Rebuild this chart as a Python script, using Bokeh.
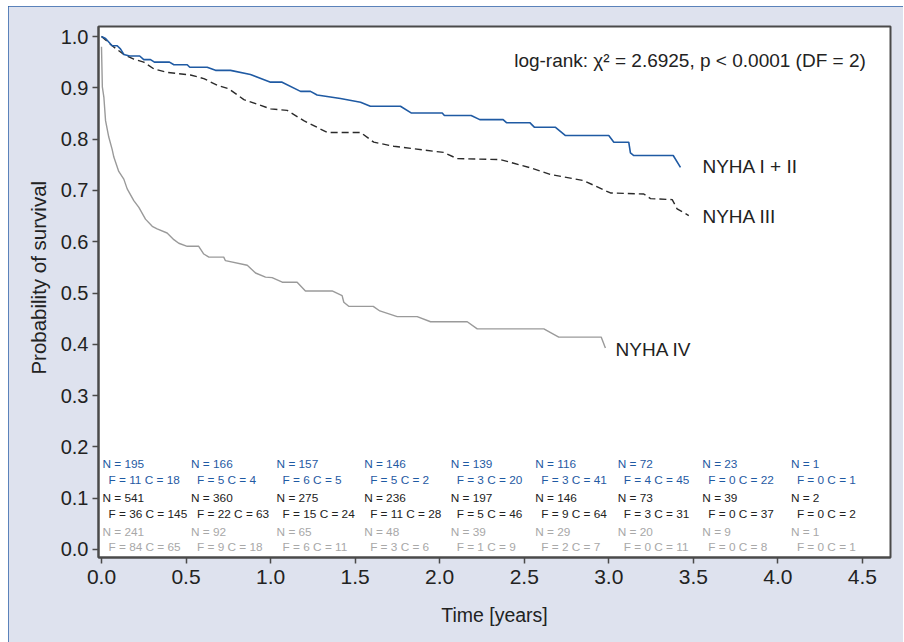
from bokeh.plotting import figure
from bokeh.models import Range1d, FixedTicker, PrintfTickFormatter, ColumnDataSource
from bokeh.core.properties import value
from bokeh.embed import file_html
from bokeh.resources import INLINE

# ---- survival curves ----
t_12 = [0, 0.024, 0.063, 0.093, 0.112, 0.132, 0.167, 0.226, 0.25, 0.29, 0.313, 0.402, 0.428, 0.507,
        0.522, 0.625, 0.674, 0.763, 0.881, 1.0, 1.068, 1.177, 1.236, 1.275, 1.413, 1.532, 1.59, 1.768,
        1.831, 2.015, 2.028, 2.186, 2.237, 2.375, 2.395, 2.533, 2.561, 2.685, 2.744, 3.0, 3.03, 3.118,
        3.128, 3.148, 3.381, 3.424]
s_12 = [1.0, 0.996, 0.982, 0.982, 0.976, 0.965, 0.962, 0.962, 0.955, 0.955, 0.950, 0.950, 0.945, 0.945,
        0.940, 0.940, 0.934, 0.934, 0.926, 0.911, 0.911, 0.893, 0.893, 0.886, 0.879, 0.872, 0.864, 0.864,
        0.851, 0.851, 0.846, 0.846, 0.838, 0.838, 0.832, 0.832, 0.823, 0.823, 0.807, 0.807, 0.794, 0.794,
        0.773, 0.768, 0.768, 0.745]

t_3 = [0, 0.063, 0.132, 0.191, 0.25, 0.309, 0.388, 0.526, 0.605, 0.684, 0.753, 0.842, 1.0, 1.098,
       1.196, 1.335, 1.413, 1.532, 1.61, 1.729, 2.024, 2.103, 2.36, 2.438, 2.537, 2.655, 2.852, 2.911,
       3.01, 3.207, 3.247, 3.375, 3.404, 3.473]
s_3 = [1.0, 0.982, 0.965, 0.956, 0.950, 0.937, 0.930, 0.925, 0.918, 0.905, 0.898, 0.877, 0.859, 0.856,
       0.836, 0.813, 0.813, 0.813, 0.794, 0.786, 0.774, 0.762, 0.760, 0.753, 0.744, 0.731, 0.719, 0.710,
       0.695, 0.693, 0.684, 0.682, 0.664, 0.651]

t_4 = [0, 0.005, 0.014, 0.024, 0.043, 0.063, 0.073, 0.102, 0.132, 0.152, 0.191, 0.221, 0.26, 0.30,
       0.329, 0.388, 0.428, 0.457, 0.507, 0.575, 0.605, 0.635, 0.723, 0.733, 0.862, 0.911, 0.97, 1.009,
       1.069, 1.157, 1.206, 1.364, 1.423, 1.433, 1.462, 1.607, 1.646, 1.749, 1.867, 1.946, 2.163, 2.222,
       2.616, 2.704, 2.955, 2.98]
s_4 = [0.98, 0.902, 0.882, 0.836, 0.804, 0.780, 0.765, 0.737, 0.722, 0.703, 0.680, 0.667, 0.644, 0.630,
       0.625, 0.617, 0.604, 0.597, 0.591, 0.591, 0.576, 0.570, 0.570, 0.563, 0.554, 0.539, 0.531, 0.530,
       0.521, 0.521, 0.504, 0.504, 0.495, 0.482, 0.474, 0.474, 0.465, 0.454, 0.454, 0.444, 0.444, 0.430,
       0.430, 0.414, 0.414, 0.393]

# ---- numbers at risk ----
risk_times = [0, 0.5, 1.0, 1.5, 2.0, 2.5, 3.0, 3.5, 4.0]
n_12 = [195, 166, 157, 146, 139, 116, 72, 23, 1]
f_12 = [11, 5, 6, 5, 3, 3, 4, 0, 0]
c_12 = [18, 4, 5, 2, 20, 41, 45, 22, 1]
n_3 = [541, 360, 275, 236, 197, 146, 73, 39, 2]
f_3 = [36, 22, 15, 11, 5, 9, 3, 0, 0]
c_3 = [145, 63, 24, 28, 46, 64, 31, 37, 2]
n_4 = [241, 92, 65, 48, 39, 29, 20, 9, 1]
f_4 = [84, 9, 6, 3, 1, 2, 0, 0, 0]
c_4 = [65, 18, 11, 6, 9, 7, 11, 8, 1]

x_ticks = [0, 0.5, 1.0, 1.5, 2.0, 2.5, 3.0, 3.5, 4.0, 4.5]
y_ticks = [0.0, 0.1, 0.2, 0.3, 0.4, 0.5, 0.6, 0.7, 0.8, 0.9, 1.0]

FONT = "Liberation Sans"
BLUE = "#1f5aa3"
BLACK = "#222222"
GRAY = "#9a9a9a"
GRAY_TXT = "#a8a8a8"
BG = "#dee2ee"
FRAME = "#4a4a4a"

p = figure(width=895, height=636,
           x_range=Range1d(-0.0177, 4.666), y_range=Range1d(-0.0156, 1.0195),
           output_backend="svg", toolbar_location=None,
           min_border_left=90, min_border_right=13, min_border_top=20, min_border_bottom=85)
p.border_fill_color = BG
p.background_fill_color = "white"
p.outline_line_color = FRAME
p.outline_line_width = 2
p.xgrid.visible = False
p.ygrid.visible = False
p.styles = {"margin-left": "8px", "margin-top": "6px",
            "outline": "1.5px solid #2f62a8", "outline-offset": "-1.5px"}

for ax in (p.xaxis, p.yaxis):
    ax.axis_line_color = FRAME
    ax.axis_line_width = 2
    ax.major_tick_line_color = FRAME
    ax.major_tick_line_width = 1.5
    ax.major_tick_out = 6
    ax.major_tick_in = 0
    ax.minor_tick_line_color = None
    ax.major_label_text_font = FONT
    ax.major_label_text_font_size = "20px"
    ax.major_label_text_color = "#222222"
    ax.major_label_standoff = 4
    ax.axis_label_text_font = FONT
    ax.axis_label_text_font_style = "normal"
    ax.axis_label_text_color = "#222222"
    ax.formatter = PrintfTickFormatter(format="%.1f")

p.xaxis.major_label_text_font_size = "21px"
p.xaxis.major_label_standoff = 6
p.xaxis.axis_label_text_font_size = "19.5px"
p.yaxis.axis_label_text_font_size = "20.5px"

p.xaxis.ticker = FixedTicker(ticks=x_ticks)
p.yaxis.ticker = FixedTicker(ticks=y_ticks)
p.xaxis.axis_label = "Time [years]"
# leading no-break spaces nudge the centred label upwards like the original
p.yaxis.axis_label = "\u00a0" * 5 + "Probability of survival"
p.xaxis.axis_label_standoff = 17
p.yaxis.axis_label_standoff = 8

p.line(t_4, s_4, line_color=GRAY, line_width=1.4)
p.line(t_3, s_3, line_color="#2a2a2a", line_width=1.4, line_dash="7 4")
p.line(t_12, s_12, line_color=BLUE, line_width=1.6)

# curve labels
p.text(x=[3.554, 3.554, 3.04], y=[0.747, 0.649, 0.39],
       text=["NYHA I + II", "NYHA III", "NYHA IV"],
       text_font=value(FONT), text_font_size=value("19px"), text_color="#222222",
       text_baseline="middle", text_align="left")
p.text(x=[4.52], y=[0.953], text=["log-rank: \u03c7\u00b2 = 2.6925, p < 0.0001 (DF = 2)"],
       text_font=value(FONT), text_font_size=value("19px"), text_color="#222222",
       text_baseline="middle", text_align="right")

# at-risk table
col_off = [1, 5, 6, 9, 11, 11, 9, 9, 13]
groups = [(n_12, f_12, c_12, BLUE, 0.166, 0.135),
          (n_3, f_3, c_3, BLACK, 0.101, 0.070),
          (n_4, f_4, c_4, GRAY_TXT, 0.035, 0.004)]
for n, f, c, col, yn, yf in groups:
    src_n = ColumnDataSource(dict(x=risk_times, y=[yn] * len(n), off=col_off,
                                  t=["N = %d" % v for v in n]))
    src_f = ColumnDataSource(dict(x=risk_times, y=[yf] * len(n), off=[o + 6 for o in col_off],
                                  t=["F = %d C = %d" % (a, b) for a, b in zip(f, c)]))
    for src in (src_n, src_f):
        p.text(x="x", y="y", text="t", x_offset="off", source=src,
               text_font=value(FONT), text_font_size=value("11.8px"), text_color=col,
               text_baseline="middle", text_align="left")

open("out.html", "w").write(file_html(p, INLINE))
